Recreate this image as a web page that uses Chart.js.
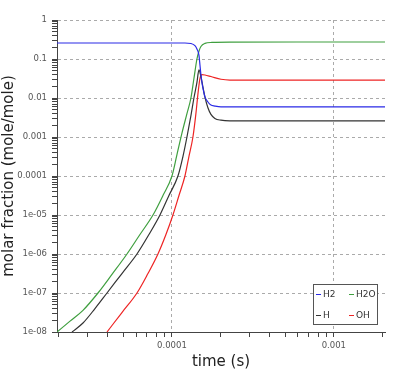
<!DOCTYPE html>
<html>
<head>
<meta charset="utf-8">
<script src="https://cdn.jsdelivr.net/npm/chart.js@4"></script>
<style>
  html, body { margin: 0; padding: 0; background: #fff; }
  #wrap { width: 411px; height: 390px; }
</style>
</head>
<body>
<div id="wrap"><canvas id="fractionChart" width="411" height="390"></canvas></div>
<script>
// Species and colours
const species = ['H2', 'H2O', 'H', 'OH'];
const speciesColors = ['#2a2ae6', '#3f9f3f', '#333333', '#ee2424'];

// Time (s) and molar fraction, per species
const h2Time = [1.95e-5, 1.203e-4, 1.31e-4, 1.387e-4, 1.427e-4, 1.468e-4, 1.489e-4, 1.51e-4, 1.532e-4, 1.554e-4, 1.599e-4, 1.668e-4, 1.741e-4, 1.842e-4, 2.007e-4, 2.1e-3];
const h2Frac = [0.257, 0.257, 0.25, 0.22, 0.18, 0.126, 0.071, 0.04, 0.025, 0.018, 0.0107, 0.0079, 0.0066, 0.0062, 0.0059, 0.0059];

const h2oTime = [1.95e-5, 2.347e-5, 2.822e-5, 3.492e-5, 4.262e-5, 5.275e-5, 6.346e-5, 7.635e-5, 8.8e-5, 1.0e-4, 1.074e-4, 1.153e-4, 1.238e-4, 1.31e-4, 1.367e-4, 1.427e-4, 1.468e-4, 1.51e-4, 1.599e-4, 1.766e-4, 2.28e-4, 2.1e-3];
const h2oFrac = [1e-8, 1.9e-8, 3.6e-8, 1e-7, 3.0e-7, 1e-6, 3.16e-6, 1e-5, 3.16e-5, 1e-4, 3.55e-4, 1.26e-3, 3.98e-3, 0.01, 0.0316, 0.1, 0.158, 0.209, 0.251, 0.266, 0.272, 0.273];

const hTime = [2.414e-5, 2.822e-5, 3.346e-5, 3.97e-5, 4.911e-5, 6.081e-5, 7.211e-5, 8.433e-5, 9.583e-5, 1.089e-4, 1.169e-4, 1.238e-4, 1.31e-4, 1.367e-4, 1.427e-4, 1.468e-4, 1.51e-4, 1.554e-4, 1.599e-4, 1.668e-4, 1.741e-4, 1.842e-4, 2.007e-4, 2.28e-4, 2.1e-3];
const hFrac = [1e-8, 1.7e-8, 3.98e-8, 1e-7, 3.16e-7, 1e-6, 3.16e-6, 1e-5, 3.16e-5, 1e-4, 3.16e-4, 1e-3, 3.55e-3, 0.01, 0.0251, 0.0525, 0.0355, 0.0191, 0.0105, 0.0056, 0.0038, 0.003, 0.0027, 0.0026, 0.0026];

const ohTime = [3.97e-5, 4.911e-5, 6.081e-5, 7.11e-5, 8.196e-5, 9.182e-5, 1.0143e-4, 1.105e-4, 1.203e-4, 1.273e-4, 1.348e-4, 1.406e-4, 1.447e-4, 1.489e-4, 1.532e-4, 1.599e-4, 1.741e-4, 2.007e-4, 2.28e-4, 2.1e-3];
const ohFrac = [1e-8, 3.16e-8, 1e-7, 3.16e-7, 1e-6, 3.16e-6, 1e-5, 3.16e-5, 1e-4, 3.16e-4, 1e-3, 3.98e-3, 0.0126, 0.0316, 0.0398, 0.0389, 0.0355, 0.0302, 0.0288, 0.0288];

// Axis ticks
const xTickValues = [1e-4, 1e-3];
const xTickLabels = ['0.0001', '0.001'];
const yTickValues = [1, 0.1, 0.01, 0.001, 0.0001, 1e-5, 1e-6, 1e-7, 1e-8];
const yTickLabels = ['1', '0.1', '0.01', '0.001', '0.0001', '1e-05', '1e-06', '1e-07', '1e-08'];

const seriesTime = [h2Time, h2oTime, hTime, ohTime];
const seriesFrac = [h2Frac, h2oFrac, hFrac, ohFrac];

function toPoints(times, fracs) {
    return times.map(function (t, i) { return { x: t, y: fracs[i] }; });
}

function isMajor(value, list) {
    return list.some(function (v) { return Math.abs(v - value) / v < 1e-6; });
}

function labelFor(value, list, labels) {
    for (let i = 0; i < list.length; i++) {
        if (Math.abs(list[i] - value) / list[i] < 1e-6) return labels[i];
    }
    return '';
}

// 1..9 x 10^n ticks inside [min, max]
function logTicks(min, max) {
    const out = [];
    for (let e = Math.floor(Math.log10(min)); e <= Math.ceil(Math.log10(max)); e++) {
        for (let s = 1; s <= 9; s++) {
            const v = parseFloat((s * Math.pow(10, e)).toPrecision(6));
            if (v >= min * 0.9999 && v <= max * 1.0001) out.push({ value: v });
        }
    }
    return out;
}

// Small boxed legend inside the plot, lower right
const boxLegend = {
    id: 'boxLegend',
    afterDraw(chart) {
        const ctx = chart.ctx;
        const area = chart.chartArea;
        const bx = area.right - 72, by = area.bottom - 48, bw = 64, bh = 40;
        ctx.save();
        ctx.fillStyle = '#fff';
        ctx.fillRect(bx, by, bw, bh);
        ctx.strokeStyle = '#555';
        ctx.lineWidth = 1;
        ctx.strokeRect(bx + 0.5, by + 0.5, bw, bh);
        ctx.font = '9px "DejaVu Sans"';
        ctx.textBaseline = 'middle';
        chart.data.datasets.forEach(function (ds, i) {
            const col = i % 2, row = Math.floor(i / 2);
            const x = bx + 3 + col * 33;
            const y = by + 10 + row * 21;
            ctx.strokeStyle = ds.borderColor;
            ctx.beginPath();
            ctx.moveTo(x, y + 0.5);
            ctx.lineTo(x + 5, y + 0.5);
            ctx.stroke();
            ctx.fillStyle = '#333';
            ctx.fillText(ds.label, x + 7, y + 1);
        });
        ctx.restore();
    }
};

const datasets = species.map(function (name, i) {
    return {
        label: name,
        data: toPoints(seriesTime[i], seriesFrac[i]),
        borderColor: speciesColors[i],
        backgroundColor: speciesColors[i],
        borderWidth: 1.2,
        pointRadius: 0,
        fill: false,
        cubicInterpolationMode: 'monotone'
    };
});

const ctx = document.getElementById('fractionChart').getContext('2d');
new Chart(ctx, {
    type: 'line',
    data: { datasets: datasets },
    options: {
        responsive: false,
        animation: false,
        layout: { padding: { left: 0, top: 20, right: 26, bottom: 0 } },
        plugins: {
            legend: { display: false },
            tooltip: { enabled: false }
        },
        scales: {
            x: {
                type: 'logarithmic',
                min: 1.95e-5,
                max: 2.07e-3,
                afterBuildTicks: function (scale) { scale.ticks = logTicks(2e-5, 2e-3); },
                afterFit: function (scale) { scale.height = 58; },
                ticks: {
                    autoSkip: false,
                    maxRotation: 0,
                    padding: 4,
                    color: '#555',
                    font: { family: 'DejaVu Sans', size: 8.5 },
                    callback: function (value) { return labelFor(value, xTickValues, xTickLabels); }
                },
                grid: {
                    color: function (c) { return c.tick && isMajor(c.tick.value, xTickValues) ? '#aaaaaa' : 'rgba(0,0,0,0)'; },
                    tickColor: '#444',
                    tickLength: 5,
                    lineWidth: 1
                },
                border: { display: true, color: '#444', dash: [3, 3] },
                title: {
                    display: true,
                    text: 'time (s)',
                    color: '#222',
                    font: { family: 'DejaVu Sans', size: 15 },
                    padding: { top: 0, bottom: 19 }
                }
            },
            y: {
                type: 'logarithmic',
                min: 1e-8,
                max: 1,
                afterBuildTicks: function (scale) { scale.ticks = logTicks(1e-8, 1); },
                afterFit: function (scale) { scale.width = 57; },
                ticks: {
                    autoSkip: false,
                    padding: 5,
                    color: '#555',
                    font: { family: 'DejaVu Sans', size: 8.5 },
                    callback: function (value) { return labelFor(value, yTickValues, yTickLabels); }
                },
                grid: {
                    color: function (c) { return c.tick && isMajor(c.tick.value, yTickValues) ? '#aaaaaa' : 'rgba(0,0,0,0)'; },
                    tickColor: '#444',
                    tickLength: 5,
                    lineWidth: 1
                },
                border: { display: true, color: '#444', dash: [3, 3] },
                title: {
                    display: true,
                    text: 'molar fraction (mole/mole)',
                    color: '#222',
                    font: { family: 'DejaVu Sans', size: 15 },
                    padding: { top: 0, bottom: 0 }
                }
            }
        }
    },
    plugins: [boxLegend]
});
</script>
</body>
</html>
